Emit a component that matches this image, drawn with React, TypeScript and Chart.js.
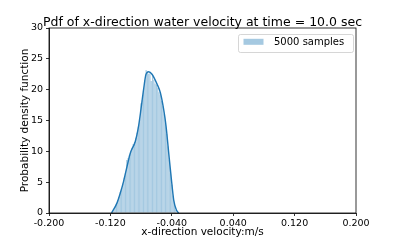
import React, { useEffect, useRef } from "react";
import { Chart, registerables } from "chart.js";

Chart.register(...registerables);

const TITLE = "Pdf of x-direction water velocity at time = 10.0 sec";
const X_LABEL = "x-direction velocity:m/s";
const Y_LABEL = "Probability density function";
const LEGEND_LABEL = "5000 samples";

const X_TICKS = [-0.2, -0.12, -0.04, 0.04, 0.12, 0.2];
const Y_TICKS = [0, 5, 10, 15, 20, 25, 30];

// histogram: bin edges start and width, heights (density)
const BIN_START = -0.118;
const BIN_WIDTH = 0.00168;
const HIST_DENSITY = [
  0.2, 0.6, 1.0, 1.5, 2.1, 2.6, 3.4, 4.0, 4.8, 5.7,
  6.5, 8.6, 8.9, 9.4, 10.0, 10.6, 11.2, 11.5, 12.2, 13.0,
  14.0, 15.2, 17.8, 18.3, 19.8, 21.5, 23.2, 23.0, 22.6, 22.8,
  21.4, 22.2, 21.6, 21.0, 20.8, 20.3, 19.6, 19.2, 18.2, 17.3,
  16.0, 14.6, 12.8, 10.8, 8.6, 6.4, 4.6, 2.8, 1.4, 0.5,
];

// KDE curve
const KDE_X = [
  -0.1185, -0.1115, -0.1072, -0.1029, -0.0984, -0.0941, -0.0876, -0.0833,
  -0.0802, -0.0767, -0.0736, -0.0702, -0.0658, -0.0592, -0.0549, -0.0506,
  -0.0475, -0.044, -0.0409, -0.0375, -0.034, -0.031,
];
const KDE_Y = [
  0, 1.6, 3.2, 5.1, 7.5, 9.7, 11.6, 14.1,
  16.8, 20.1, 22.5, 22.9, 22.5, 20.9, 19.5, 16.8,
  14.1, 9.7, 5.9, 2.1, 0.5, 0,
];

const FONT = "DejaVu Sans";
const HIST_COLOR = "rgba(31,119,180,0.4)";
const LINE_COLOR = "#1f77b4";

export default function App() {
  const ref = useRef<HTMLCanvasElement | null>(null);

  useEffect(() => {
    if (!ref.current) return;
    Chart.defaults.font.family = FONT;

    const histData = HIST_DENSITY.map((y, i) => ({
      x: BIN_START + (i + 0.5) * BIN_WIDTH,
      y,
    }));
    const kdeData = KDE_X.map((x, i) => ({ x, y: KDE_Y[i] }));

    const framePlugin = {
      id: "frame",
      afterDraw(chart: any) {
        const { ctx, chartArea } = chart;
        const { left, top, right, bottom } = chartArea;
        ctx.save();
        ctx.strokeStyle = "#000";
        ctx.lineWidth = 0.8;
        ctx.strokeRect(left, top, right - left, bottom - top);

        // legend
        const lx = 238.5, ly = 34.5, lw = 115, lh = 18;
        ctx.beginPath();
        ctx.roundRect(lx, ly, lw, lh, 2);
        ctx.fillStyle = "rgba(255,255,255,0.8)";
        ctx.fill();
        ctx.strokeStyle = "#cccccc";
        ctx.lineWidth = 0.8;
        ctx.stroke();
        ctx.fillStyle = HIST_COLOR;
        ctx.fillRect(243.5, 38.8, 20, 6);
        ctx.fillStyle = "#000";
        ctx.font = `10px "${FONT}"`;
        ctx.textBaseline = "middle";
        ctx.textAlign = "left";
        ctx.fillText(LEGEND_LABEL, 274, 42);

        // title
        ctx.font = `12.5px "${FONT}"`;
        ctx.textAlign = "center";
        ctx.textBaseline = "alphabetic";
        ctx.fillText(TITLE, (left + right) / 2, 26);
        ctx.restore();
      },
    };

    const chart = new Chart(ref.current, {
      type: "bar",
      data: {
        datasets: [
          {
            type: "line",
            data: kdeData,
            borderColor: LINE_COLOR,
            borderWidth: 1.4,
            pointRadius: 0,
            tension: 0.4,
            cubicInterpolationMode: "monotone",
            fill: false,
            order: 0,
          } as any,
          {
            type: "bar",
            data: histData,
            backgroundColor: HIST_COLOR,
            borderWidth: 0,
            barPercentage: 0.88,
            categoryPercentage: 1,
            order: 1,
          } as any,
        ],
      },
      options: {
        responsive: false,
        animation: false,
        devicePixelRatio: 1,
        layout: { padding: { top: 28, right: 39, left: 0, bottom: 0 } },
        plugins: {
          legend: { display: false },
          tooltip: { enabled: false },
          title: { display: false },
        },
        scales: {
          x: {
            type: "linear",
            min: -0.2,
            max: 0.2,
            offset: false,
            afterBuildTicks: (s: any) => {
              s.ticks = X_TICKS.map((v) => ({ value: v }));
            },
            afterFit: (s: any) => {
              s.height = 27;
            },
            ticks: {
              callback: (v: any) => Number(v).toFixed(3),
              color: "#000",
              font: { size: 9.5 },
              padding: 2,
              maxRotation: 0,
              autoSkip: false,
            },
            grid: {
              offset: false,
              drawOnChartArea: false,
              drawTicks: true,
              tickLength: 3,
              tickColor: "#000",
              tickWidth: 0.8,
            },
            border: { color: "#000", width: 0.8 },
            title: {
              display: true,
              text: X_LABEL,
              color: "#000",
              font: { size: 10.5 },
              padding: { top: 0, bottom: 1 },
            },
          },
          y: {
            type: "linear",
            min: 0,
            max: 30,
            afterBuildTicks: (s: any) => {
              s.ticks = Y_TICKS.map((v) => ({ value: v }));
            },
            afterFit: (s: any) => {
              s.width = 49;
            },
            ticks: {
              color: "#000",
              font: { size: 9.5 },
              padding: 3,
            },
            grid: {
              drawOnChartArea: false,
              drawTicks: true,
              tickLength: 3,
              tickColor: "#000",
              tickWidth: 0.8,
            },
            border: { color: "#000", width: 0.8 },
            title: {
              display: true,
              text: Y_LABEL,
              color: "#000",
              font: { size: 10.5 },
              padding: { top: 18.7, bottom: 0 },
            },
          },
        },
      },
      plugins: [framePlugin],
    });
    return () => chart.destroy();
  }, []);

  return (
    <div style={{ position: "absolute", left: 0, top: 0, width: 395, height: 240, background: "#fff" }}>
      <canvas ref={ref} width={395} height={240} style={{ width: 395, height: 240 }} />
    </div>
  );
}
